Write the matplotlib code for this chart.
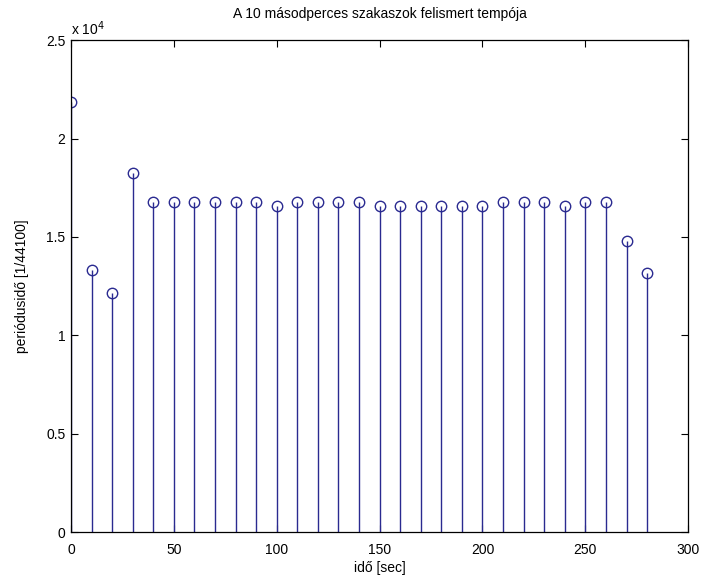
import matplotlib
matplotlib.use("Agg")
import matplotlib.pyplot as plt
from matplotlib.ticker import FuncFormatter

plt.rcParams['font.family'] = ['Liberation Sans', 'DejaVu Sans']

# 10 s szakaszok kezdete és a felismert periódusidő (mintában)
ido = [0, 10, 20, 30, 40, 50, 60, 70, 80, 90, 100, 110, 120, 130, 140,
       150, 160, 170, 180, 190, 200, 210, 220, 230, 240, 250, 260, 270, 280]
periodus = [21860, 13340, 12150, 18260, 16770, 16770, 16770, 16770, 16770, 16770,
            16600, 16770, 16770, 16770, 16770, 16600, 16600, 16600, 16600, 16600,
            16600, 16770, 16770, 16770, 16600, 16770, 16770, 14780, 13170]

szin = '#2a2a90'

fig = plt.figure(figsize=(7.03, 5.84), dpi=100)
ax = fig.add_axes([0.101, 0.089, 0.878, 0.842])

markerline, stemlines, baseline = ax.stem(ido, periodus, basefmt=' ')
plt.setp(stemlines, color=szin, linewidth=1.0)
plt.setp(markerline, color=szin, markerfacecolor='none', markersize=7.5, markeredgewidth=1.0)

ax.set_xlim(0, 300)
ax.set_ylim(0, 25000)
ax.set_xticks(range(0, 301, 50))
ax.set_yticks([0, 5000, 10000, 15000, 20000, 25000])
ax.yaxis.set_major_formatter(FuncFormatter(lambda v, p: '%g' % (v / 1e4)))

ax.tick_params(direction='in', top=True, right=True, length=5, width=0.8,
               labelsize=10)
ax.tick_params(axis='x', pad=8)
ax.tick_params(axis='y', pad=4)
for s in ax.spines.values():
    s.set_linewidth(0.9)

ax.text(0.0, 1.005, 'x 10$^4$', transform=ax.transAxes, fontsize=10,
        ha='left', va='bottom')

ax.set_title('A 10 másodperces szakaszok felismert tempója', fontsize=10, pad=16)
ax.set_xlabel('idő [sec]', fontsize=10, labelpad=3)
ax.set_ylabel('periódusidő [1/44100]', fontsize=10, labelpad=12)

fig.savefig('out.png', dpi=100)
